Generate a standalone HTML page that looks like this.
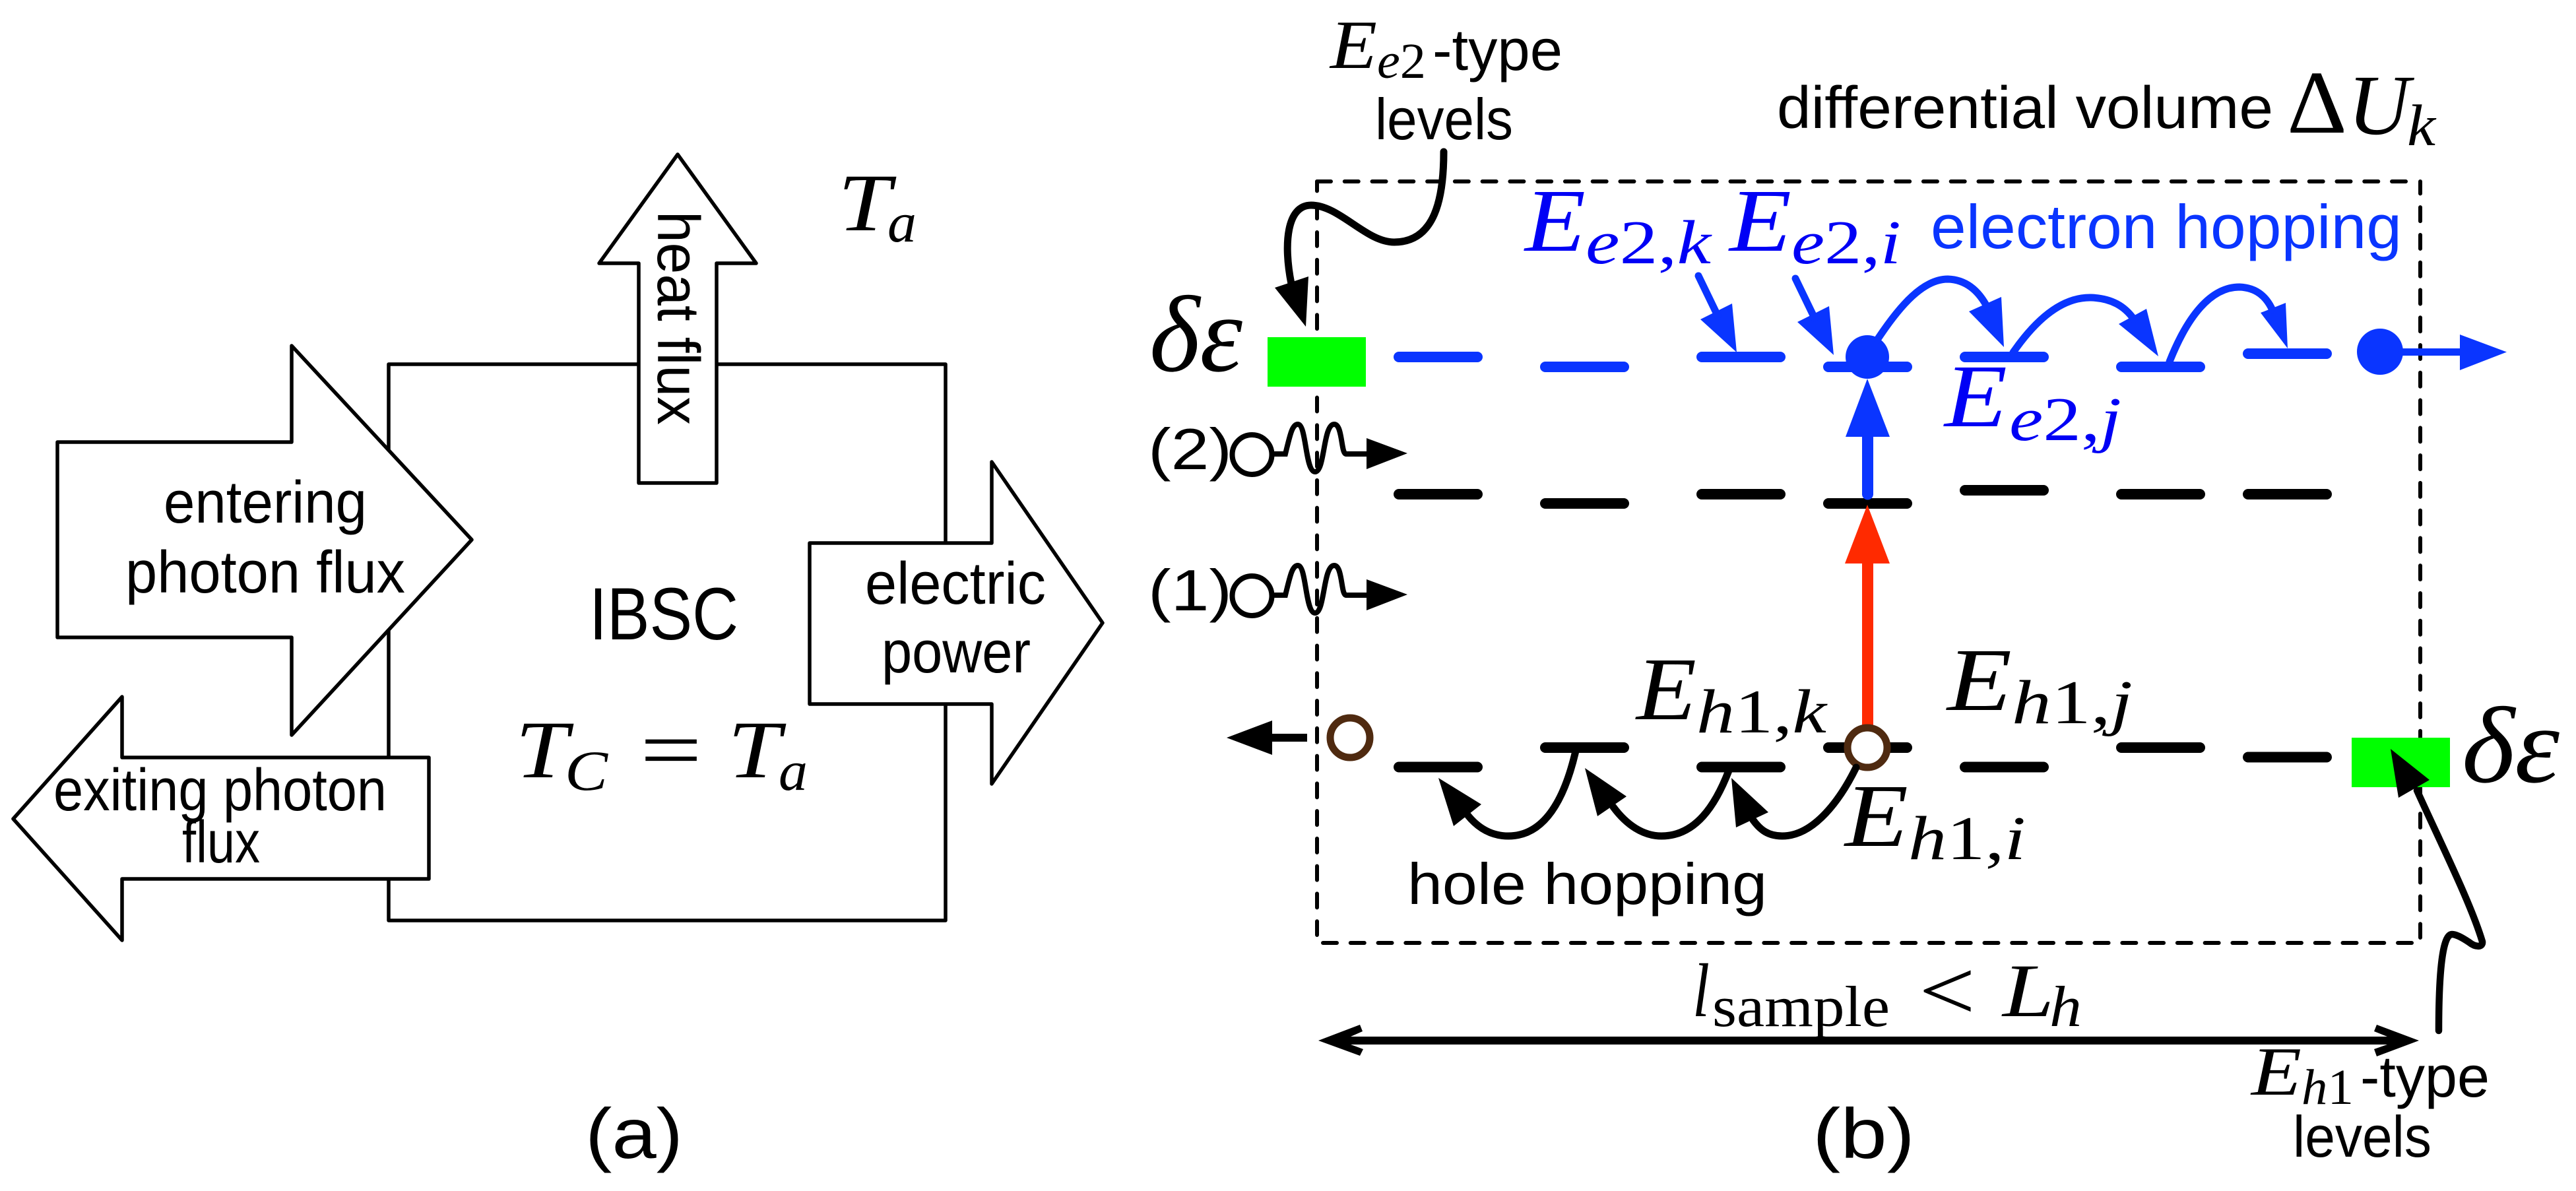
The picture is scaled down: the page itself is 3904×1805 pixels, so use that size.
<!DOCTYPE html>
<html><head><meta charset="utf-8"><style>
html,body{margin:0;padding:0;background:#fff}
svg{display:block}
.s{font-family:"Liberation Sans",sans-serif}
.m{font-family:"Liberation Serif",serif;font-style:italic}
.r{font-family:"Liberation Serif",serif;font-style:normal}
tspan.n{font-style:normal}
</style></head><body>
<svg xmlns="http://www.w3.org/2000/svg" width="3904" height="1805" viewBox="0 0 3904 1805">
<rect width="3904" height="1805" fill="#fff"/>
<!-- panel a -->
<g fill="#fff" stroke="#000" stroke-width="5.5" stroke-linejoin="round">
<rect x="589" y="552" width="844" height="843"/>
<polygon points="1027,234 1146,399 1086,399 1086,732 968,732 968,399 908,399"/>
<polygon points="87,670 442,670 442,524 715,818 442,1114 442,966 87,966"/>
<polygon points="20,1241 185,1056 185,1148 650,1148 650,1332 185,1332 185,1425"/>
<polygon points="1227,823 1503,823 1503,700 1671,944 1503,1188 1503,1067 1227,1067"/>
</g>
<g class="s" font-size="90" fill="#000">
<text x="248" y="792" textLength="308" lengthAdjust="spacingAndGlyphs">entering</text>
<text x="190" y="898" textLength="424" lengthAdjust="spacingAndGlyphs">photon flux</text>
<text x="81" y="1228" textLength="505" lengthAdjust="spacingAndGlyphs">exiting photon</text>
<text x="276" y="1307" textLength="118" lengthAdjust="spacingAndGlyphs">flux</text>
<text x="1311" y="915" textLength="274" lengthAdjust="spacingAndGlyphs">electric</text>
<text x="1336" y="1019" textLength="226" lengthAdjust="spacingAndGlyphs">power</text>
<text transform="translate(997,320) rotate(90)" textLength="324" lengthAdjust="spacingAndGlyphs">heat flux</text>
<text x="893" y="969" font-size="112" textLength="226" lengthAdjust="spacingAndGlyphs">IBSC</text>
<text x="887" y="1755" font-size="108" textLength="148" lengthAdjust="spacingAndGlyphs">(a)</text>
<text x="2747" y="1755" font-size="108" textLength="155" lengthAdjust="spacingAndGlyphs">(b)</text>
</g>
<g class="m" fill="#000">
<text x="781" y="1178" font-size="124" textLength="80" lengthAdjust="spacingAndGlyphs">T</text>
<text x="856" y="1197" font-size="86" textLength="65" lengthAdjust="spacingAndGlyphs">C</text>
<text x="970" y="1180" font-size="130" class="r" textLength="94" lengthAdjust="spacingAndGlyphs">=</text>
<text x="1103" y="1178" font-size="124" textLength="80" lengthAdjust="spacingAndGlyphs">T</text>
<text x="1180" y="1197" font-size="86" textLength="44" lengthAdjust="spacingAndGlyphs">a</text>
<text x="1270" y="349" font-size="124" textLength="80" lengthAdjust="spacingAndGlyphs">T</text>
<text x="1345" y="366" font-size="86" textLength="44" lengthAdjust="spacingAndGlyphs">a</text>
</g>
<!-- panel b dashed box -->
<g stroke="#000" stroke-width="6" fill="none" stroke-linecap="round">
<path d="M1996 275V1417" stroke-dasharray="21 20.77" stroke-dashoffset="6.6"/>
<path d="M3668 275V1421" stroke-dasharray="21 20.77" stroke-dashoffset="2.6"/>
<path d="M1996 275H3648" stroke-dasharray="21 20.77"/>
<path d="M2005 1429H3657" stroke-dasharray="21 20.77"/>
</g>
<!-- green -->
<rect x="1921" y="511" width="149" height="75" fill="#00ff00"/>
<rect x="3564" y="1118" width="149" height="75" fill="#00ff00"/>
<!-- blue levels -->
<g stroke="#0a35ff" stroke-width="16" stroke-linecap="round" fill="none">
<path d="M2120 541h119M2342 556h119M2579 541h119M2771 556h119M2978 541h119M3215 556h119M3407 536h119"/>
</g>
<!-- black levels -->
<g stroke="#000" stroke-width="16" stroke-linecap="round" fill="none">
<path d="M2120 749h119M2342 763h119M2579 749h119M2771 763h119M2978 743h119M3215 749h119M3407 749h119"/>
<path d="M2120 1162.500h119M2342 1133h119M2579 1162.500h119M2771 1133h119M2978 1162.500h119M3215 1133h119M3407 1147.500h119"/>
</g>
<!-- blue items -->
<g fill="#0a35ff" stroke="none">
<circle cx="2830" cy="541" r="33"/>
<circle cx="3607" cy="533" r="35"/>
<rect x="3630" y="528" width="100" height="11"/>
<polygon points="3728,507 3799,533.5 3728,561"/>
<polygon points="2830,574 2864,662 2797,662"/>
<rect x="2822" y="655" width="17" height="95"/>
<circle cx="2830.500" cy="749" r="8.500"/>
<polygon points="2724,488 2772,464 2779,538"/>
<polygon points="2577,484 2625,460 2632,534"/>
<polygon points="2984,472 3033,450 3037,526"/>
<polygon points="3211,491 3253,468 3271,540"/>
<polygon points="3426,474 3464,459 3467,528"/>
</g>
<g fill="none" stroke="#0a35ff" stroke-width="11" stroke-linecap="round">
<path d="M2721 422L2750 482"/>
<path d="M2574 418L2603 478"/>
<path d="M2845 515C2880 462 2915 423 2952 423C2985 424 3003 448 3013 468"/>
<path d="M3051 534C3085 485 3125 450 3169 451C3200 452 3220 464 3234 484"/>
<path d="M3288 548C3315 480 3350 435 3394 435C3420 436 3435 450 3444 470"/>
</g>
<!-- red -->
<rect x="2822" y="850" width="17" height="255" fill="#ff2a00"/>
<polygon points="2830,765 2864,854 2796,854" fill="#ff2a00"/>
<!-- holes -->
<g fill="#fff" stroke="#4f2a10" stroke-width="11">
<circle cx="2046" cy="1118" r="30"/>
<circle cx="2830" cy="1133" r="30"/>
</g>
<!-- black arrows -->
<g fill="#000">
<rect x="1925" y="1112" width="56" height="12"/>
<polygon points="1859,1118 1928,1092 1928,1144"/>
<polygon points="2071,664 2133,687 2071,711"/>
<polygon points="2071,878 2133,901 2071,925"/>
<polygon points="2180,1179 2203,1252 2245,1219"/>
<polygon points="2402,1164 2421,1237 2465,1207"/>
<polygon points="2624,1179 2631,1254 2680,1231"/>
<polygon points="1932,436 1983,419 1979,495"/>
<polygon points="3623,1135 3682,1182 3635,1209"/>
<polygon points="1998,1577 2061,1553 2065,1563 2047,1571 3618,1571 3598,1563 3602,1553 3666,1577 3602,1601 3598,1590 3618,1583 2047,1583 2066,1590 2061,1600"/>
</g>
<g fill="none" stroke="#000" stroke-linecap="round">
<path stroke-width="11" d="M2388 1138C2376 1190 2350 1267 2286 1267C2260 1267 2240 1255 2224 1235"/>
<path stroke-width="11" d="M2620 1168C2600 1220 2570 1267 2518 1267C2490 1267 2465 1250 2445 1223"/>
<path stroke-width="11" d="M2813 1163C2790 1210 2750 1267 2701 1267C2680 1267 2668 1258 2657 1243"/>
<path stroke-width="11" d="M2188 230C2188 300 2175 367 2113 367C2070 367 2030 311 1987 311C1950 311 1945 370 1957 430"/>
<path stroke-width="10.500" d="M3663 1198C3700 1280 3745 1370 3762 1427C3763 1436 3752 1436 3742 1428C3730 1420 3722 1416 3716 1416C3702 1416 3696 1470 3696 1562"/>
<g stroke-width="8">
<circle cx="1897.500" cy="689" r="30" fill="#fff"/>
<circle cx="1897.500" cy="903" r="30" fill="#fff"/>
<path d="M1932 688H1948C1955 660 1958 643 1967 643C1980 643 1978 715 1993 715C2008 715 2005 643 2022 643C2035 643 2032 688 2040 688H2072"/>
<path d="M1932 902H1948C1955 874 1958 857 1967 857C1980 857 1978 929 1993 929C2008 929 2005 857 2022 857C2035 857 2032 902 2040 902H2072"/>
</g>
</g>
<!-- panel b text -->
<g class="s" font-size="88" fill="#000">
<text x="2171" y="106" textLength="197" lengthAdjust="spacingAndGlyphs">-type</text>
<text x="2084" y="211" textLength="209" lengthAdjust="spacingAndGlyphs">levels</text>
<text x="2693" y="194" font-size="90" textLength="752" lengthAdjust="spacingAndGlyphs">differential volume</text>
<text x="2133" y="1370" textLength="545" lengthAdjust="spacingAndGlyphs">hole hopping</text>
<text x="3577" y="1662" textLength="196" lengthAdjust="spacingAndGlyphs">-type</text>
<text x="3475" y="1753" textLength="210" lengthAdjust="spacingAndGlyphs">levels</text>
<text x="1740" y="711" textLength="127" lengthAdjust="spacingAndGlyphs">(2)</text>
<text x="1740" y="925" textLength="127" lengthAdjust="spacingAndGlyphs">(1)</text>
<text x="2926" y="376" fill="#0a35ff" font-size="94" textLength="714" lengthAdjust="spacingAndGlyphs">electron hopping</text>
</g>
<g class="m" fill="#000">
<text x="2016" y="103" font-size="105" textLength="71" lengthAdjust="spacingAndGlyphs">E</text>
<text x="2087" y="118" font-size="76" textLength="74" lengthAdjust="spacingAndGlyphs">e<tspan class="n">2</tspan></text>
<text x="3412" y="1659" font-size="105" textLength="76" lengthAdjust="spacingAndGlyphs">E</text>
<text x="3488" y="1673" font-size="76" textLength="79" lengthAdjust="spacingAndGlyphs">h<tspan class="n">1</tspan></text>
<text x="3466" y="201" font-size="136" class="r" textLength="91" lengthAdjust="spacingAndGlyphs">Δ</text>
<text x="3558" y="203" font-size="130" textLength="94" lengthAdjust="spacingAndGlyphs">U</text>
<text x="3648" y="220" font-size="89" textLength="43" lengthAdjust="spacingAndGlyphs">k</text>
<text x="1742" y="562" font-size="165" textLength="141" lengthAdjust="spacingAndGlyphs">δε</text>
<text x="3731" y="1185" font-size="165" textLength="148" lengthAdjust="spacingAndGlyphs">δε</text>
<text x="2480" y="1090" font-size="136" textLength="91" lengthAdjust="spacingAndGlyphs">E</text>
<text x="2571" y="1110" font-size="94" textLength="197" lengthAdjust="spacingAndGlyphs">h<tspan class="n">1,</tspan>k</text>
<text x="2951" y="1076" font-size="136" textLength="98" lengthAdjust="spacingAndGlyphs">E</text>
<text x="3049" y="1096" font-size="94" textLength="183" lengthAdjust="spacingAndGlyphs">h<tspan class="n">1,</tspan>j</text>
<text x="2796" y="1282" font-size="136" textLength="96" lengthAdjust="spacingAndGlyphs">E</text>
<text x="2892" y="1302" font-size="94" textLength="178" lengthAdjust="spacingAndGlyphs">h<tspan class="n">1,</tspan>i</text>
<text x="2565" y="1540" font-size="115" textLength="26" lengthAdjust="spacingAndGlyphs">l</text>
<text x="2595" y="1555" font-size="88" class="r" textLength="269" lengthAdjust="spacingAndGlyphs">sample</text>
<text x="2908" y="1545" font-size="130" class="r" textLength="86" lengthAdjust="spacingAndGlyphs">&lt;</text>
<text x="3035" y="1540" font-size="115" textLength="78" lengthAdjust="spacingAndGlyphs">L</text>
<text x="3106" y="1555" font-size="88" textLength="49" lengthAdjust="spacingAndGlyphs">h</text>
</g>
<g class="m" fill="#0000f5">
<text x="2311" y="380" font-size="136" textLength="92" lengthAdjust="spacingAndGlyphs">E</text>
<text x="2403" y="399" font-size="94" textLength="190" lengthAdjust="spacingAndGlyphs">e<tspan class="n">2,</tspan>k</text>
<text x="2621" y="380" font-size="136" textLength="94" lengthAdjust="spacingAndGlyphs">E</text>
<text x="2715" y="399" font-size="94" textLength="166" lengthAdjust="spacingAndGlyphs">e<tspan class="n">2,</tspan>i</text>
<text x="2947" y="646" font-size="136" textLength="95" lengthAdjust="spacingAndGlyphs">E</text>
<text x="3045" y="667" font-size="94" textLength="170" lengthAdjust="spacingAndGlyphs">e<tspan class="n">2,</tspan>j</text>
</g>
</svg>
</body></html>
